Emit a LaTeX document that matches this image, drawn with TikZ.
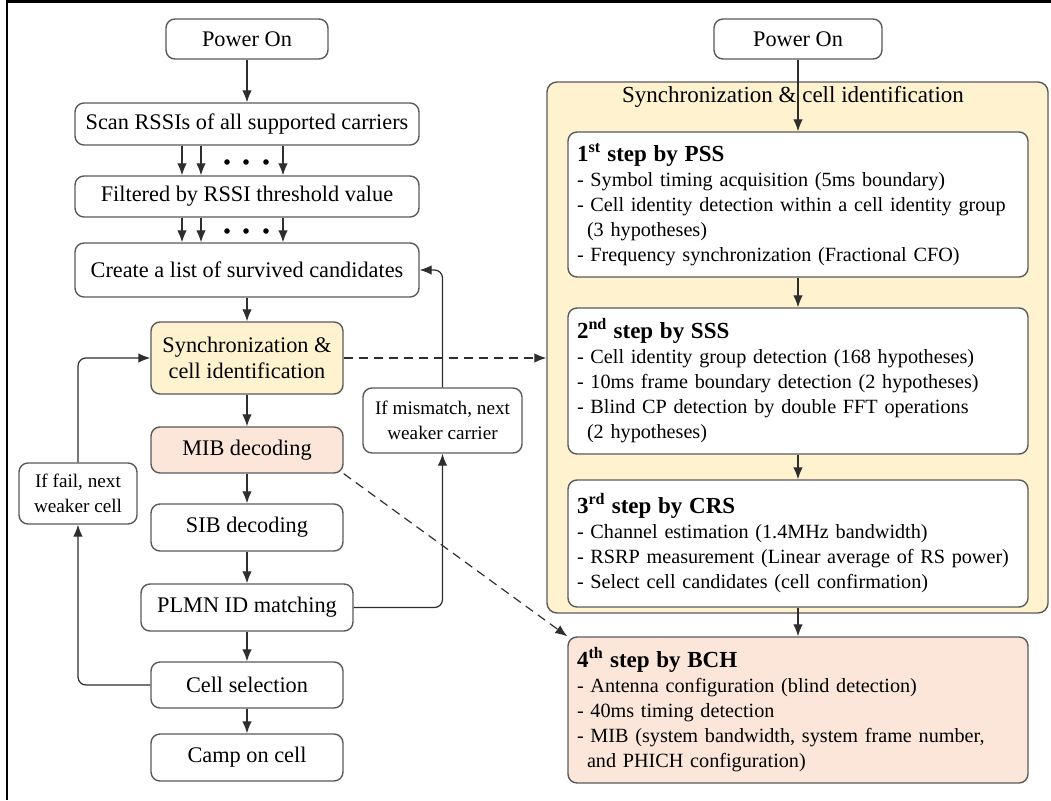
\documentclass[tikz,border=0pt]{standalone}
\usepackage{fontspec}
\setmainfont{Liberation Serif}
\usetikzlibrary{arrows.meta,calc}
\definecolor{bordc}{HTML}{5A5A5A}
\definecolor{arrc}{HTML}{2E2E2E}
\definecolor{yel}{HTML}{FFF2CE}
\definecolor{pnk}{HTML}{FBE6D9}
\tikzset{
  box/.style={draw=bordc, line width=1.4pt, rounded corners=9pt, fill=white,
    font=\fontsize{22.3}{26}\selectfont, align=center, inner sep=0pt},
  lbl/.style={box, font=\fontsize{19.2}{25}\selectfont},
  sz/.style 2 args={minimum width=#1pt, minimum height=#2pt},
  stepbox/.style={draw=bordc, line width=1.4pt, rounded corners=9pt, fill=white,
    minimum width=460pt, text width=442pt, align=left, inner xsep=9pt, inner ysep=0pt,
    font=\fontsize{20.2}{25}\selectfont},
  arr/.style={draw=arrc, line width=1.2pt, -{Latex[length=12pt,width=9.5pt]}},
  darr/.style={arr, dash pattern=on 9pt off 6pt},
}
\begin{document}
\begin{tikzpicture}[x=1pt,y=-1pt]
\useasboundingbox (0,0) rectangle (1051,800);
\fill[white] (0,0) rectangle (1051,800);
\draw[line width=2.6pt, black] (7,800) -- (7,1.5) -- (1051,1.5);

% container
\node[draw=bordc, line width=1.4pt, rounded corners=10pt, fill=yel, minimum width=501pt, minimum height=531pt] (cont) at (797.5,347.5) {};
\node[font=\fontsize{23}{27}\selectfont] (ctitle) at (793,97) {Synchronization \& cell identification};

% left column
\node[box, sz={162}{40}] (pwrL) at (247,39) {Power On};
\node[box, sz={344}{42}] (scan) at (247,124) {Scan RSSIs of all supported carriers};
\node[box, sz={344}{41}] (filt) at (247,196.5) {Filtered by RSSI threshold value};
\node[box, sz={344}{54}] (create) at (247,270) {Create a list of survived candidates};
\node[box, fill=yel, sz={192}{72}] (sync) at (247,358) {Synchronization \&\\cell identification};
\node[box, fill=pnk, sz={192}{46}] (mib) at (247,450) {MIB decoding};
\node[box, sz={192}{47}] (sib) at (247,527.5) {SIB decoding};
\node[box, sz={212}{47}] (plmn) at (247,607.5) {PLMN ID matching};
\node[box, sz={192}{46}] (csel) at (247,685) {Cell selection};
\node[box, sz={192}{47}] (camp) at (247,757.5) {Camp on cell};
\node[lbl, sz={118}{61}] (fail) at (78,493.5) {If fail, next\\weaker cell};
\node[lbl, sz={159}{65}] (mism) at (442.5,420.5) {If mismatch, next\\weaker carrier};

% right column
\node[box, sz={168}{40}] (pwrR) at (798,39) {Power On};
\node[stepbox, minimum height=145pt] (s1) at (798,204.5) {%
{\fontsize{23}{27}\selectfont\bfseries 1\textsuperscript{st} step by PSS}\\
- Symbol timing acquisition (5ms boundary)\\
- Cell identity detection within a cell identity group\\
\hspace*{10pt}(3 hypotheses)\\
- Frequency synchronization (Fractional CFO)};
\node[stepbox, minimum height=146pt] (s2) at (798,381) {%
{\fontsize{23}{27}\selectfont\bfseries 2\textsuperscript{nd} step by SSS}\\
- Cell identity group detection (168 hypotheses)\\
- 10ms frame boundary detection (2 hypotheses)\\
- Blind CP detection by double FFT operations\\
\hspace*{10pt}(2 hypotheses)};
\node[stepbox, minimum height=127pt] (s3) at (798,543.5) {%
{\fontsize{23}{27}\selectfont\bfseries 3\textsuperscript{rd} step by CRS}\\
- Channel estimation (1.4MHz bandwidth)\\
- RSRP measurement (Linear average of RS power)\\
- Select cell candidates (cell confirmation)};
\node[stepbox, fill=pnk, minimum height=146pt] (s4) at (798,710) {%
{\fontsize{23}{27}\selectfont\bfseries 4\textsuperscript{th} step by BCH}\\
- Antenna configuration (blind detection)\\
- 40ms timing detection\\
- MIB (system bandwidth, system frame number,\\
\hspace*{10pt}and PHICH configuration)};

% left arrows
\draw[arr] (pwrL) -- (scan);
\foreach \x in {182,201,283} {
  \draw[arr] (scan.south -| \x,0) -- (filt.north -| \x,0);
  \draw[arr] (filt.south -| \x,0) -- (create.north -| \x,0);
}
\foreach \x in {227,246,266} {
  \fill[black] (\x,162) circle (2.8pt);
  \fill[black] (\x,231) circle (2.8pt);
}
\draw[arr] (create) -- (sync);
\draw[arr] (sync) -- (mib);
\draw[arr] (mib) -- (sib);
\draw[arr] (sib) -- (plmn);
\draw[arr] (plmn) -- (csel);
\draw[arr] (csel) -- (camp);
\draw[arr, rounded corners=8pt] (csel.west) -| (fail.south);
\draw[arr, rounded corners=8pt] (fail.north) |- (sync.west);
\draw[arr, rounded corners=8pt] (plmn.east) -| (mism.south);
\draw[arr, rounded corners=8pt] (mism.north) |- (create.east);

% right arrows
\draw[arr] (pwrR) -- (s1);
\draw[arr] (s1) -- (s2);
\draw[arr] (s2) -- (s3);
\draw[arr] (s3) -- (s4);

% dashed links
\draw[darr] (sync.east) -- (sync.east -| cont.west);
\draw[darr] (mib.south east) -- (s4.north west);
\end{tikzpicture}
\end{document}
